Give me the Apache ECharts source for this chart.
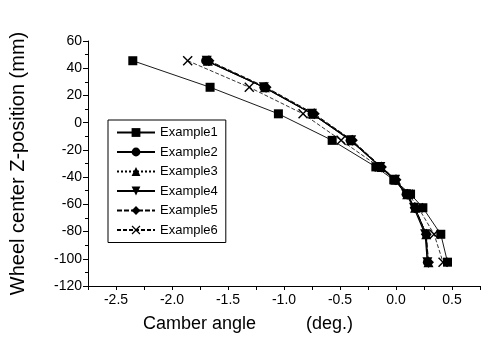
<!DOCTYPE html>
<html>
<head>
<meta charset="utf-8">
<script src="https://cdn.jsdelivr.net/npm/echarts@6/dist/echarts.min.js"></script>
<style>
    html, body { margin: 0; padding: 0; background: #fff; }
    #chart { width: 488px; height: 341px; }
</style>
</head>
<body>
<div id="chart"></div>
<script>
// wheel center Z-position levels (mm), shared by all series
const zPos = [45.5, 26, 6.5, -13, -32.5, -42, -52.5, -62.5, -82, -102.5]

// camber angle (deg.) for each example
const example1 = [-2.35, -1.66, -1.05, -0.57, -0.18, -0.02, 0.13, 0.24, 0.40, 0.46]
const example2 = [-1.70, -1.18, -0.75, -0.41, -0.14, -0.01, 0.09, 0.17, 0.27, 0.28]
const example3 = [-1.68, -1.17, -0.74, -0.40, -0.13, 0.00, 0.10, 0.17, 0.27, 0.29]
const example4 = [-1.69, -1.18, -0.75, -0.40, -0.14, -0.01, 0.09, 0.16, 0.26, 0.28]
const example5 = [-1.67, -1.16, -0.73, -0.39, -0.13, 0.00, 0.10, 0.17, 0.27, 0.29]
const example6 = [-1.86, -1.31, -0.83, -0.49, -0.15, -0.01, 0.11, 0.20, 0.34, 0.42]

const names = ['Example1', 'Example2', 'Example3', 'Example4', 'Example5', 'Example6']

const FONT = 'Liberation Sans, Arial, sans-serif'
const X_MARK = 'path://M0,1L1,0L5,4L9,0L10,1L6,5L10,9L9,10L5,6L1,10L0,9L4,5Z'

function makeSeries(name, xs, symbol, size, lineType, lineWidth) {
    return {
        name: name,
        type: 'line',
        data: xs.map((x, i) => [x, zPos[i]]),
        symbol: symbol,
        symbolSize: size,
        lineStyle: { color: '#000', width: lineWidth, type: lineType },
        itemStyle: { color: '#000' },
        z: 2,
    }
}

const series = [
    makeSeries(names[0], example1, 'rect', 9, 'solid', 0.9),
    makeSeries(names[1], example2, 'circle', 9, 'solid', 1),
    makeSeries(names[2], example3, 'triangle', 10, 'dotted', 1),
    makeSeries(names[3], example4, 'path://M0,0L10,0L5,9Z', 10, 'solid', 1.2),
    makeSeries(names[4], example5, 'diamond', 11, [5, 2], 1),
    makeSeries(names[5], example6, X_MARK, 10, [4, 2], 0.8),
]

const myChart = echarts.init(document.getElementById('chart'))
const option = {
    animation: false,
    backgroundColor: '#fff',
    textStyle: { fontFamily: FONT, color: '#000' },
    grid: { left: 87, right: 8, top: 41, bottom: 55 },
    legend: {
        data: names,
        orient: 'vertical',
        left: 108,
        top: 120,
        width: 122,
        padding: [6, 8, 6, 8],
        itemGap: 6.5,
        itemWidth: 38,
        itemHeight: 11,
        borderColor: '#000',
        borderWidth: 1,
        backgroundColor: '#fff',
        textStyle: { fontFamily: FONT, fontSize: 13, color: '#000' },
    },
    xAxis: {
        type: 'value',
        min: -2.75,
        max: 0.75,
        interval: 0.25,
        name: 'Camber angle          (deg.)',
        nameLocation: 'middle',
        nameGap: 29,
        nameTextStyle: { fontFamily: FONT, fontSize: 18, color: '#000', padding: [0, 72, 0, 0] },
        axisLine: { show: true, onZero: false, lineStyle: { color: '#000', width: 1 } },
        axisTick: { show: true, length: 4, lineStyle: { color: '#000' } },
        axisLabel: {
            fontFamily: FONT, fontSize: 14, color: '#000', margin: 7,
            formatter: v => (Math.abs(Math.round(v * 2) - v * 2) < 1e-6 ? v.toFixed(1) : ''),
        },
        splitLine: { show: false },
    },
    yAxis: {
        type: 'value',
        min: -120,
        max: 60,
        interval: 20,
        name: 'Wheel center Z-position (mm)',
        nameLocation: 'middle',
        nameGap: 60,
        nameTextStyle: { fontFamily: FONT, fontSize: 20, color: '#000' },
        axisLine: { show: true, onZero: false, lineStyle: { color: '#000', width: 1 } },
        axisTick: { show: true, length: 5, lineStyle: { color: '#000' } },
        minorTick: { show: true, splitNumber: 2, length: 3, lineStyle: { color: '#000' } },
        axisLabel: { fontFamily: FONT, fontSize: 14, color: '#000', margin: 6 },
        splitLine: { show: false },
    },
    series: series,
}
myChart.setOption(option)
</script>
</body>
</html>
